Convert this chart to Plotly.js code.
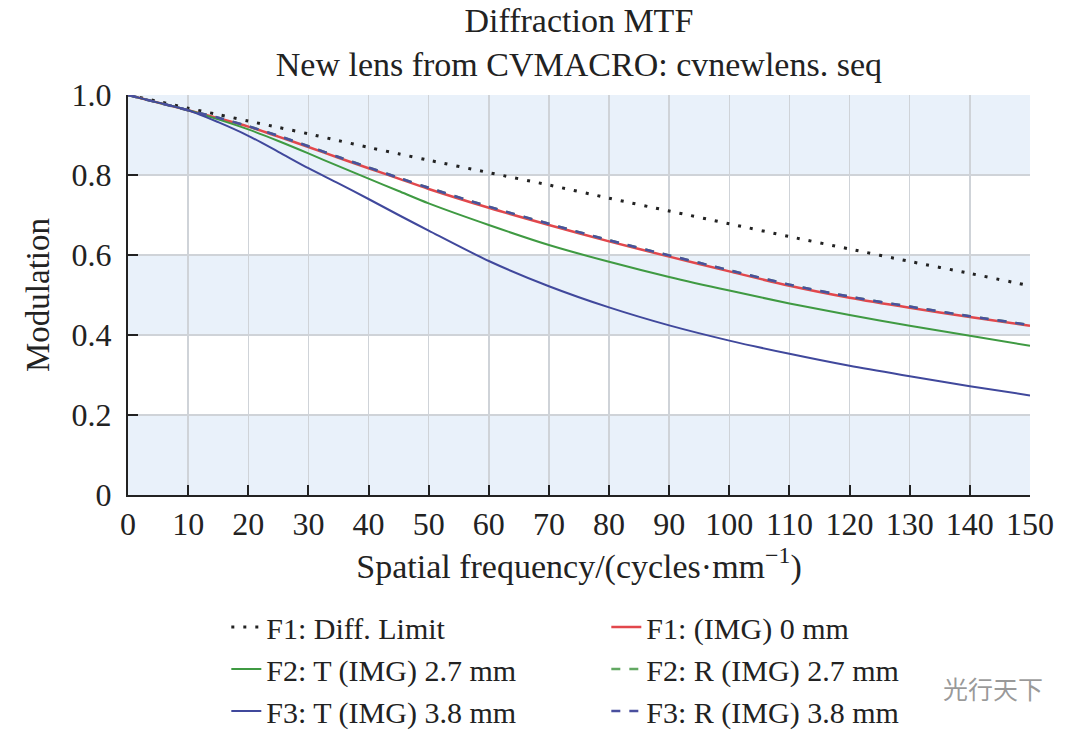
<!DOCTYPE html>
<html>
<head>
<meta charset="utf-8">
<script src="https://cdn.plot.ly/plotly-3.0.1.min.js"></script>
<style>html,body{margin:0;padding:0;background:#fff;}#chart{width:1080px;height:735px;}</style>
</head>
<body>
<div id="chart"></div>
<script>
const freq = [0, 5, 10, 15, 20, 25, 30, 35, 40, 45, 50, 60, 70, 80, 90, 100, 110, 120, 130, 140, 150];
const diffLimit = [1.0, 0.984, 0.967, 0.951, 0.935, 0.919, 0.903, 0.886, 0.869, 0.853, 0.837, 0.806, 0.775, 0.742, 0.710, 0.678, 0.646, 0.615, 0.584, 0.554, 0.523];
const f1Img0   = [1.0, 0.981, 0.962, 0.942, 0.921, 0.896, 0.870, 0.843, 0.817, 0.791, 0.765, 0.718, 0.675, 0.634, 0.596, 0.559, 0.523, 0.493, 0.468, 0.445, 0.423];
const f2T      = [1.0, 0.981, 0.962, 0.939, 0.914, 0.885, 0.854, 0.822, 0.791, 0.760, 0.729, 0.675, 0.625, 0.583, 0.545, 0.511, 0.479, 0.450, 0.423, 0.398, 0.373];
const f2R      = [1.0, 0.981, 0.962, 0.943, 0.922, 0.898, 0.872, 0.845, 0.819, 0.793, 0.768, 0.721, 0.678, 0.637, 0.599, 0.562, 0.526, 0.496, 0.471, 0.447, 0.425];
const f3T      = [1.0, 0.981, 0.962, 0.932, 0.898, 0.858, 0.817, 0.779, 0.740, 0.700, 0.661, 0.585, 0.522, 0.469, 0.424, 0.386, 0.353, 0.323, 0.297, 0.272, 0.249];
const f3R      = [1.0, 0.981, 0.962, 0.943, 0.922, 0.898, 0.872, 0.845, 0.819, 0.793, 0.768, 0.721, 0.678, 0.637, 0.599, 0.562, 0.526, 0.496, 0.471, 0.447, 0.425];
const seriesNames = ['F1: Diff. Limit', 'F1: (IMG) 0 mm', 'F2: T (IMG) 2.7 mm', 'F2: R (IMG) 2.7 mm', 'F3: T (IMG) 3.8 mm', 'F3: R (IMG) 3.8 mm'];
const xTicks = [0, 10, 20, 30, 40, 50, 60, 70, 80, 90, 100, 110, 120, 130, 140, 150];
const yTicks = [0, 0.2, 0.4, 0.6, 0.8, 1.0];
const yTickText = ['0', '0.2', '0.4', '0.6', '0.8', '1.0'];
const bands = [[0, 0.2], [0.4, 0.6], [0.8, 1.0]];

const FONT = 'Liberation Serif, Times New Roman, serif';
const styles = [
  {color: '#222222', width: 3, dash: '3px,9px'},
  {color: '#e2474c', width: 2.5, dash: 'solid'},
  {color: '#3f9a42', width: 2, dash: 'solid'},
  {color: '#62a862', width: 2.5, dash: 'dash'},
  {color: '#40489c', width: 2, dash: 'solid'},
  {color: '#4a4f9e', width: 2.5, dash: 'dash'}
];
const ys = [diffLimit, f1Img0, f2T, f2R, f3T, f3R];
const traces = ys.map((y, i) => ({
  type: 'scatter', mode: 'lines', x: freq, y: y, name: seriesNames[i],
  line: Object.assign({shape: 'spline', smoothing: 0.8}, styles[i])
}));

const shapes = bands.map(b => ({
  type: 'rect', xref: 'paper', yref: 'y', x0: 0, x1: 1, y0: b[0], y1: b[1],
  fillcolor: '#e9f1fa', line: {width: 0}, layer: 'below'
}));

const layout = {
  width: 1080, height: 735,
  paper_bgcolor: '#ffffff', plot_bgcolor: '#ffffff',
  margin: {l: 128, r: 50, t: 95, b: 240, autoexpand: false},
  font: {family: FONT, size: 32, color: '#222'},
  title: {text: 'Diffraction MTF<br>New lens from CVMACRO: cvnewlens. seq',
          font: {family: FONT, size: 34, color: '#222'},
          x: 0.536, xanchor: 'center', y: 0.957, yanchor: 'top', yref: 'container'},
  xaxis: {range: [0, 150], tickvals: xTicks, ticktext: xTicks.map(String),
          showgrid: true, gridcolor: '#cfd3d8', gridwidth: 1.5,
          showline: true, linecolor: '#222', linewidth: 2,
          ticks: 'inside', ticklen: 10, tickwidth: 2, tickcolor: '#222',
          tickfont: {family: FONT, size: 32, color: '#222'},
          zeroline: false, fixedrange: true, automargin: false,
          title: {text: 'Spatial frequency/(cycles·mm<sup>−1</sup>)', font: {family: FONT, size: 34, color: '#222'}, standoff: 10}},
  yaxis: {range: [0, 1.0], tickvals: yTicks, ticktext: yTickText,
          showgrid: true, gridcolor: '#cfd3d8', gridwidth: 1.5,
          showline: true, linecolor: '#222', linewidth: 2,
          ticks: 'inside', ticklen: 10, tickwidth: 2, tickcolor: '#222',
          tickfont: {family: FONT, size: 32, color: '#222'}, ticklabelstandoff: 8,
          zeroline: false, fixedrange: true, automargin: false,
          title: {text: 'Modulation', font: {family: FONT, size: 33, color: '#222'}, standoff: 12}},
  shapes: shapes,
  showlegend: true,
  legend: {orientation: 'h', x: 0.109, xanchor: 'left', y: -0.265, yanchor: 'top',
           entrywidth: 335, entrywidthmode: 'pixels', itemwidth: 30,
           font: {family: FONT, size: 30, color: '#222'}, bgcolor: 'rgba(0,0,0,0)', tracegroupgap: 0},
  annotations: [{text: '光行天下', xref: 'paper', yref: 'paper', x: 1.017, y: -0.4825, xanchor: 'right', yanchor: 'middle',
                 showarrow: false, font: {family: 'Noto Sans CJK SC', size: 25, color: 'rgba(120,120,120,0.75)'}}]
};

Plotly.newPlot('chart', traces, layout, {displayModeBar: false, staticPlot: true});
</script>
</body>
</html>
